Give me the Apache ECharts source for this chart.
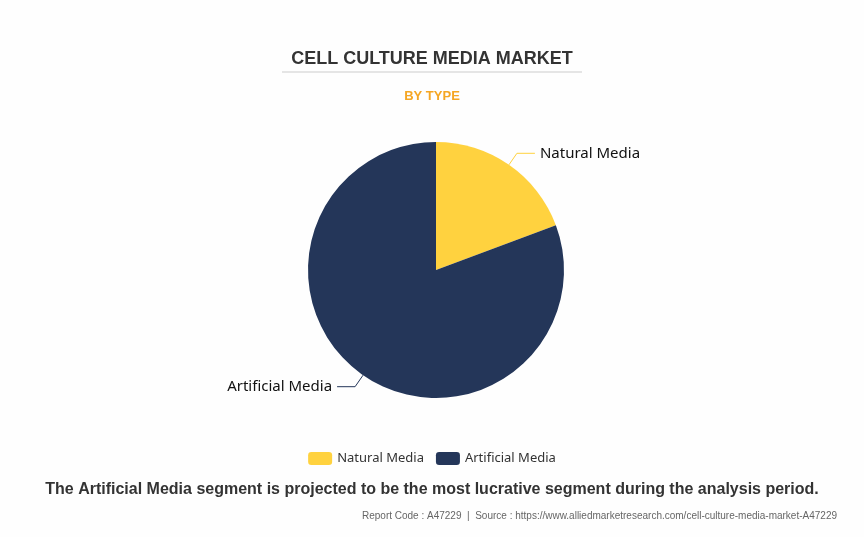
<!DOCTYPE html>
<html><head><meta charset="utf-8">
<script src="https://cdn.jsdelivr.net/npm/echarts@6/dist/echarts.min.js"></script>
<style>html,body{margin:0;padding:0;background:#fff}#c{width:864px;height:537px}</style>
</head><body><div id="c"></div>
<script>
const categories = ["Natural Media", "Artificial Media"];
const values = [19.3, 80.7];
const colors = ["#FFD23F", "#243659"];
const chart = echarts.init(document.getElementById('c'));
const F = 'Liberation Sans, Arial, sans-serif';
chart.setOption({
  backgroundColor: '#fefefe',
  title: [
    {text: 'CELL CULTURE MEDIA MARKET', left: 'center', top: 45, textStyle: {fontFamily: F, fontSize: 18, fontWeight: 'bold', color: '#333'}},
    {text: 'BY TYPE', left: 'center', top: 85, textStyle: {fontFamily: F, fontSize: 13, fontWeight: 'bold', color: '#F5A623'}},
    {text: 'The Artificial Media segment is projected to be the most lucrative segment during the analysis period.', left: 'center', top: 477, textStyle: {fontFamily: F, fontSize: 16, fontWeight: 'bold', color: '#333'}},
    {text: 'Report Code : A47229  |  Source : https://www.alliedmarketresearch.com/cell-culture-media-market-A47229', right: 22, top: 506, textStyle: {fontFamily: F, fontSize: 10, fontWeight: 'normal', color: '#666'}}
  ],
  graphic: [{type: 'line', shape: {x1: 282, y1: 72, x2: 582, y2: 72}, style: {stroke: '#ccc', lineWidth: 1}}],
  legend: {bottom: 67, left: 'center', itemWidth: 24, itemHeight: 13, itemGap: 12, textStyle: {fontFamily: 'Noto Sans', fontSize: 13, color: '#333'}, data: categories},
  color: colors,
  series: [{
    type: 'pie', center: [436, 270], radius: 128, startAngle: 90, clockwise: true,
    label: {fontFamily: 'Noto Sans', fontSize: 15, color: '#111'},
    labelLine: {length: 14, length2: 18, lineStyle: {width: 1}},
    data: categories.map((n, i) => ({name: n, value: values[i]}))
  }]
});
</script></body></html>
